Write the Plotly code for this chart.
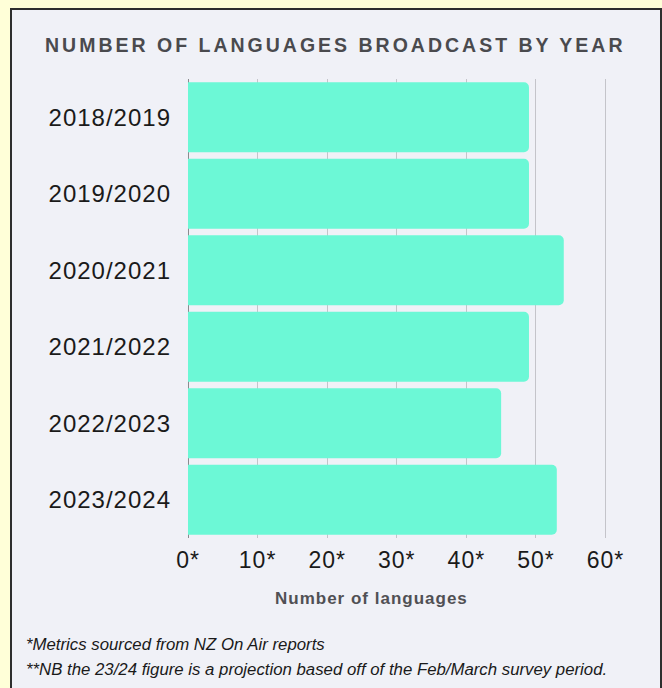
import plotly.graph_objects as go

# Broadcast years (top to bottom) and number of languages broadcast
years = ["2018/2019", "2019/2020", "2020/2021", "2021/2022", "2022/2023", "2023/2024"]
languages = [49, 49, 54, 49, 45, 53]

x_tick_vals = [0, 10, 20, 30, 40, 50, 60]
x_tick_text = ["0*", "10*", "20*", "30*", "40*", "50*", "60*"]

title_text = "NUMBER OF LANGUAGES BROADCAST BY YEAR"
axis_title = "Number of languages"
notes = [
    "*Metrics sourced from NZ On Air reports",
    "**NB the 23/24 figure is a projection based off of the Feb/March survey period.",
]

FONT = "Liberation Sans, Arial, sans-serif"
BAR = "#6cf8d6"
PANEL = "#f0f1f7"
OUTER = "#ffffd8"
X_MAX = 60.5

W, H = 662, 688
L, R, T, B = 188, 53, 79, 150
PW, PH = W - L - R, H - T - B


def px(x):
    return (x - L) / PW


def py(y):
    return (H - B - y) / PH


def spaced(s, ls):
    return f'<span style="letter-spacing:{ls}px">{s}</span>'


fig = go.Figure(
    go.Bar(
        x=languages,
        y=years,
        orientation="h",
        marker=dict(color=BAR, line=dict(width=0)),
        hoverinfo="skip",
    )
)

fig.update_layout(
    width=W,
    height=H,
    margin=dict(l=L, r=R, t=T, b=B, pad=0),
    paper_bgcolor=OUTER,
    plot_bgcolor=PANEL,
    bargap=0.085,
    barcornerradius=5,
    showlegend=False,
    font=dict(family=FONT, color="#1a1a1a"),
    xaxis=dict(
        range=[0, X_MAX],
        tickvals=x_tick_vals,
        ticktext=[spaced(t, 1) for t in x_tick_text],
        tickfont=dict(size=23, color="#1a1a1a"),
        showgrid=True,
        gridcolor="#c4c4ca",
        gridwidth=1,
        zeroline=True,
        zerolinecolor="#8a8a8e",
        zerolinewidth=1,
        showline=False,
        ticks="",
        ticklabelstandoff=6,
        fixedrange=True,
    ),
    yaxis=dict(
        autorange="reversed",
        tickvals=years,
        ticktext=[spaced(y, 1) for y in years],
        tickfont=dict(size=24, color="#1a1a1a"),
        showgrid=False,
        zeroline=False,
        showline=False,
        ticks="",
        ticklabelstandoff=16,
        fixedrange=True,
    ),
    shapes=[
        dict(
            type="rect", xref="paper", yref="paper",
            x0=px(11), x1=px(661), y0=py(720), y1=py(9),
            fillcolor=PANEL, line=dict(color="#2e2e2e", width=2),
            layer="below",
        )
    ],
)

annotations = [
    dict(
        text=spaced(f"<b>{title_text}</b>", 3.0),
        x=px(335), y=py(45), xref="paper", yref="paper",
        xanchor="center", yanchor="middle", showarrow=False,
        font=dict(size=19.5, color="#4a4a4e", family=FONT),
    ),
    dict(
        text=spaced(f"<b>{axis_title}</b>", 1),
        x=px(371), y=py(598), xref="paper", yref="paper",
        xanchor="center", yanchor="middle", showarrow=False,
        font=dict(size=17, color="#505054", family=FONT),
    ),
]
for i, note in enumerate(notes):
    annotations.append(
        dict(
            text=f"<i>{note}</i>",
            x=px(24), y=py(644 + 26 * i), xref="paper", yref="paper",
            xanchor="left", yanchor="middle", showarrow=False,
            font=dict(size=16.8, color="#1a1a1a", family=FONT),
        )
    )
fig.update_layout(annotations=annotations)

fig.write_html("out.html")
